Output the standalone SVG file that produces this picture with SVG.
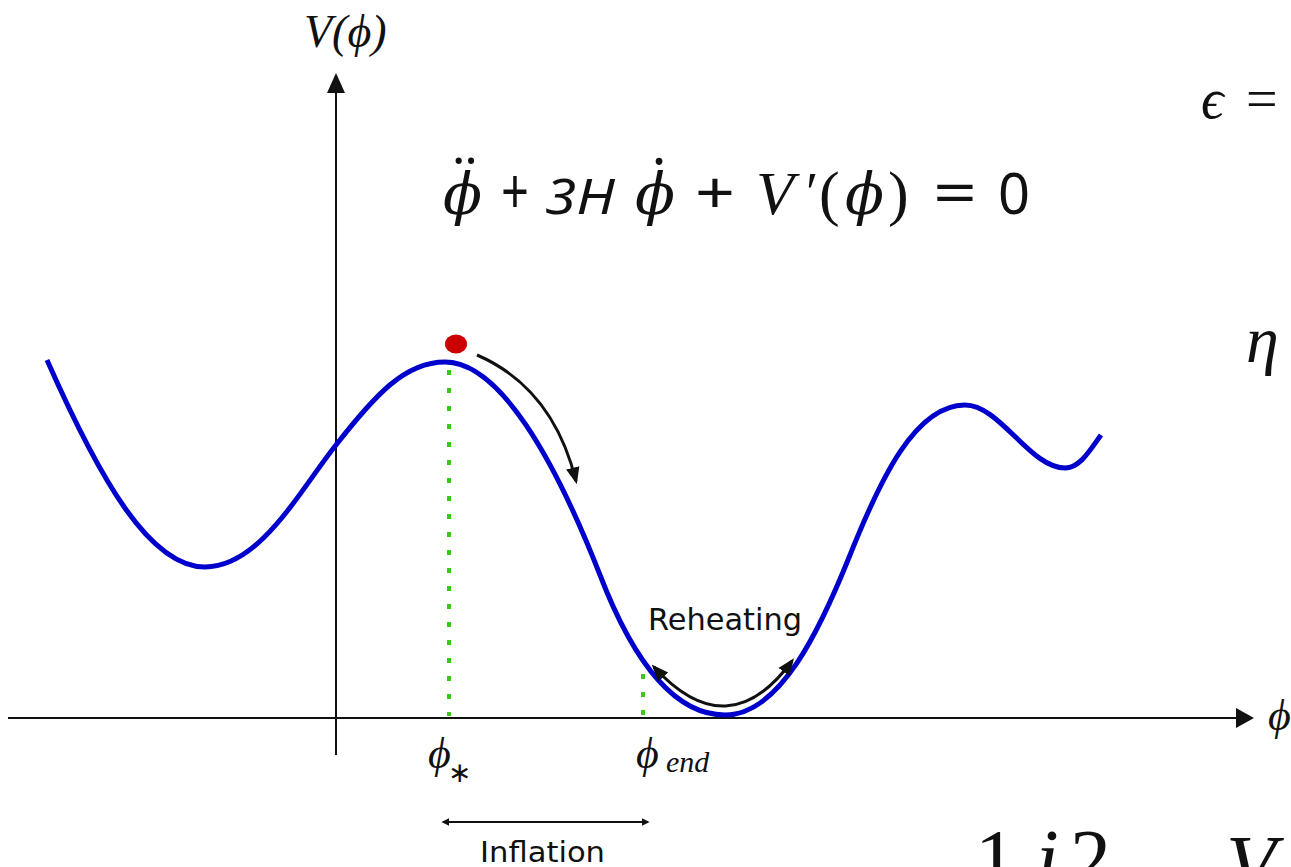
<svg xmlns="http://www.w3.org/2000/svg" width="1291" height="867" viewBox="0 0 1291 867">
<style>
.lib{font-family:"Liberation Serif",serif;fill:#111}
.phi{font-family:"DejaVu Serif","Liberation Serif",serif;font-style:italic;fill:#111}
.sans{font-family:"DejaVu Sans","Noto Sans",sans-serif;fill:#111}
.eq{font-family:"Noto Sans","DejaVu Sans",sans-serif;fill:#111}
.ax{stroke:#111;stroke-width:2;fill:none}
.arr{stroke:#111;stroke-width:3;fill:none}
.dot{stroke:#33cc11;stroke-width:4;stroke-dasharray:5 13;fill:none}
</style>
<defs>
<marker id="ah" viewBox="0 0 10 10" refX="8" refY="5" markerWidth="8" markerHeight="8" orient="auto-start-reverse" markerUnits="userSpaceOnUse">
<path d="M0,0 L10,5 L0,10 z" fill="#111"/>
</marker>
<marker id="ahb" viewBox="0 0 10 10" refX="8" refY="5" markerWidth="17" markerHeight="17" orient="auto-start-reverse" markerUnits="userSpaceOnUse">
<path d="M0,1 L10,5 L0,9 z" fill="#111"/>
</marker>
</defs>
<rect width="1291" height="867" fill="#fff"/>
<g id="axes">
<line class="ax" x1="8" y1="718" x2="1238" y2="718"/>
<path d="M1236,708 L1254,718 L1236,728 z" fill="#111"/>
<line class="ax" x1="336" y1="755" x2="336" y2="92"/>
<path d="M327,93 L336,73 L345,93 z" fill="#111"/>
</g>
<g id="guides">
<line class="dot" x1="449" y1="370" x2="449" y2="716"/>
<line class="dot" x1="643" y1="674" x2="643" y2="716"/>
</g>
<g id="potential">
<path d="M47,360 C100,480 150,567 205,567 C260,567 300,490 336,445 C375,395 405,362 445,362 C500,362 555,460 600,575 C625,640 665,715 725,715 C780,715 820,630 850,555 C880,480 915,405 965,405 C1000,405 1030,468 1065,468 C1080,468 1090,450 1101,435" fill="none" stroke="#0000cc" stroke-width="5"/>
</g>
<g id="ball">
<ellipse cx="456" cy="344" rx="11" ry="9.5" fill="#cc0000"/>
</g>
<g id="connectors">
<path class="arr" d="M477,355 Q553,388 576,481" marker-end="url(#ahb)"/>
<path class="arr" d="M654,667 Q728,748 792,661" marker-start="url(#ahb)" marker-end="url(#ahb)"/>
<line x1="443" y1="822" x2="648" y2="822" stroke="#111" stroke-width="2" marker-start="url(#ah)" marker-end="url(#ah)"/>
</g>
<g id="labels">
<text class="lib" x="304" y="47" font-size="46" font-style="italic">V(ϕ)</text>
<text class="sans" x="648" y="630" font-size="30" textLength="154" lengthAdjust="spacingAndGlyphs">Reheating</text>
<text class="sans" x="480" y="862" font-size="29" textLength="125" lengthAdjust="spacingAndGlyphs">Inflation</text>
<text class="lib" x="428" y="768" font-size="44" font-style="italic">ϕ</text>
<text class="lib" x="448" y="782" font-size="28">∗</text>
<text class="lib" x="636" y="768" font-size="44" font-style="italic">ϕ</text>
<text class="lib" x="666" y="772" font-size="30" font-style="italic">end</text>
<text class="lib" x="1268" y="730" font-size="44" font-style="italic">ϕ</text>
</g>
<g id="equation">
<text class="phi" x="443" y="214" font-size="58" textLength="39" lengthAdjust="spacingAndGlyphs">ϕ</text>
<text class="eq" x="465" y="206" font-size="66" text-anchor="middle">¨</text>
<text class="eq" x="501" y="214" font-size="64" textLength="28" lengthAdjust="spacingAndGlyphs">+</text>
<text class="eq" x="545" y="214" font-size="50" font-style="italic" textLength="70" lengthAdjust="spacingAndGlyphs">3H</text>
<text class="phi" x="635" y="214" font-size="58" textLength="40" lengthAdjust="spacingAndGlyphs">ϕ</text>
<text class="eq" x="659" y="206" font-size="66" text-anchor="middle">˙</text>
<text class="eq" x="695" y="214" font-size="58" textLength="40" lengthAdjust="spacingAndGlyphs">+</text>
<text class="lib" x="756" y="214" font-size="62" font-style="italic">V</text>
<text class="lib" x="806" y="212" font-size="56">′</text>
<text class="lib" x="819" y="214" font-size="62">(</text>
<text class="phi" x="845" y="214" font-size="58" textLength="39" lengthAdjust="spacingAndGlyphs">ϕ</text>
<text class="lib" x="888" y="214" font-size="62">)</text>
<text class="eq" x="933" y="214" font-size="60" textLength="44" lengthAdjust="spacingAndGlyphs">=</text>
<text class="eq" x="998" y="214" font-size="56">0</text>
</g>
<g id="right-texts">
<text class="lib" x="1201" y="118" font-size="56" font-style="italic">ϵ</text>
<text class="lib" x="1246" y="118" font-size="56">=</text>
<text class="lib" x="1246" y="362" font-size="66" font-style="italic">η</text>
<text class="lib" x="975" y="886" font-size="82">1</text>
<text class="lib" x="1036" y="886" font-size="82" font-style="italic">i</text>
<text class="lib" x="1070" y="886" font-size="82">2</text>
<text class="lib" x="1226" y="892" font-size="82" font-style="italic">V</text>
</g>
</svg>
